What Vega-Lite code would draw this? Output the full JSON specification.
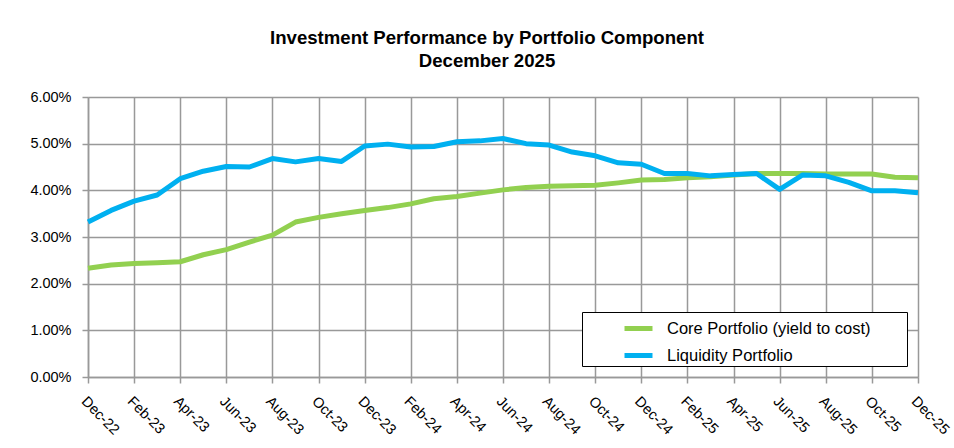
{
  "$schema": "https://vega.github.io/schema/vega-lite/v6.json",
  "autosize": {"type": "none"},
  "width": 830,
  "height": 280,
  "padding": {"left": 88, "top": 97, "right": 36, "bottom": 71},
  "background": "white",
  "title": {
    "text": ["Investment Performance by Portfolio Component", "December 2025"],
    "font": "Liberation Sans",
    "fontSize": 18.6,
    "fontWeight": "bold",
    "color": "#000000",
    "anchor": "middle",
    "dx": -16,
    "offset": 18,
    "lineHeight": 23
  },
  "config": {
    "view": {"stroke": null},
    "font": "Liberation Sans"
  },
  "data": {
    "values": [
      {"month": "Dec-22", "series": "Core Portfolio (yield to cost)", "value": 0.0233},
      {"month": "Jan-23", "series": "Core Portfolio (yield to cost)", "value": 0.0240},
      {"month": "Feb-23", "series": "Core Portfolio (yield to cost)", "value": 0.0243},
      {"month": "Mar-23", "series": "Core Portfolio (yield to cost)", "value": 0.0245},
      {"month": "Apr-23", "series": "Core Portfolio (yield to cost)", "value": 0.0247},
      {"month": "May-23", "series": "Core Portfolio (yield to cost)", "value": 0.0262},
      {"month": "Jun-23", "series": "Core Portfolio (yield to cost)", "value": 0.0273},
      {"month": "Jul-23", "series": "Core Portfolio (yield to cost)", "value": 0.0289},
      {"month": "Aug-23", "series": "Core Portfolio (yield to cost)", "value": 0.0304},
      {"month": "Sep-23", "series": "Core Portfolio (yield to cost)", "value": 0.0332},
      {"month": "Oct-23", "series": "Core Portfolio (yield to cost)", "value": 0.0342},
      {"month": "Nov-23", "series": "Core Portfolio (yield to cost)", "value": 0.0350},
      {"month": "Dec-23", "series": "Core Portfolio (yield to cost)", "value": 0.0357},
      {"month": "Jan-24", "series": "Core Portfolio (yield to cost)", "value": 0.0363},
      {"month": "Feb-24", "series": "Core Portfolio (yield to cost)", "value": 0.0371},
      {"month": "Mar-24", "series": "Core Portfolio (yield to cost)", "value": 0.0382},
      {"month": "Apr-24", "series": "Core Portfolio (yield to cost)", "value": 0.0387},
      {"month": "May-24", "series": "Core Portfolio (yield to cost)", "value": 0.0394},
      {"month": "Jun-24", "series": "Core Portfolio (yield to cost)", "value": 0.0401},
      {"month": "Jul-24", "series": "Core Portfolio (yield to cost)", "value": 0.0406},
      {"month": "Aug-24", "series": "Core Portfolio (yield to cost)", "value": 0.0409},
      {"month": "Sep-24", "series": "Core Portfolio (yield to cost)", "value": 0.0410},
      {"month": "Oct-24", "series": "Core Portfolio (yield to cost)", "value": 0.0411},
      {"month": "Nov-24", "series": "Core Portfolio (yield to cost)", "value": 0.0416},
      {"month": "Dec-24", "series": "Core Portfolio (yield to cost)", "value": 0.0422},
      {"month": "Jan-25", "series": "Core Portfolio (yield to cost)", "value": 0.0423},
      {"month": "Feb-25", "series": "Core Portfolio (yield to cost)", "value": 0.0427},
      {"month": "Mar-25", "series": "Core Portfolio (yield to cost)", "value": 0.0429},
      {"month": "Apr-25", "series": "Core Portfolio (yield to cost)", "value": 0.0433},
      {"month": "May-25", "series": "Core Portfolio (yield to cost)", "value": 0.0436},
      {"month": "Jun-25", "series": "Core Portfolio (yield to cost)", "value": 0.0436},
      {"month": "Jul-25", "series": "Core Portfolio (yield to cost)", "value": 0.0436},
      {"month": "Aug-25", "series": "Core Portfolio (yield to cost)", "value": 0.0435},
      {"month": "Sep-25", "series": "Core Portfolio (yield to cost)", "value": 0.0435},
      {"month": "Oct-25", "series": "Core Portfolio (yield to cost)", "value": 0.0435},
      {"month": "Nov-25", "series": "Core Portfolio (yield to cost)", "value": 0.0428},
      {"month": "Dec-25", "series": "Core Portfolio (yield to cost)", "value": 0.0427},
      {"month": "Dec-22", "series": "Liquidity Portfolio", "value": 0.0332},
      {"month": "Jan-23", "series": "Liquidity Portfolio", "value": 0.0357},
      {"month": "Feb-23", "series": "Liquidity Portfolio", "value": 0.0377},
      {"month": "Mar-23", "series": "Liquidity Portfolio", "value": 0.0390},
      {"month": "Apr-23", "series": "Liquidity Portfolio", "value": 0.0425},
      {"month": "May-23", "series": "Liquidity Portfolio", "value": 0.0441},
      {"month": "Jun-23", "series": "Liquidity Portfolio", "value": 0.0451},
      {"month": "Jul-23", "series": "Liquidity Portfolio", "value": 0.0450},
      {"month": "Aug-23", "series": "Liquidity Portfolio", "value": 0.0468},
      {"month": "Sep-23", "series": "Liquidity Portfolio", "value": 0.0461},
      {"month": "Oct-23", "series": "Liquidity Portfolio", "value": 0.0468},
      {"month": "Nov-23", "series": "Liquidity Portfolio", "value": 0.0462},
      {"month": "Dec-23", "series": "Liquidity Portfolio", "value": 0.0495},
      {"month": "Jan-24", "series": "Liquidity Portfolio", "value": 0.0499},
      {"month": "Feb-24", "series": "Liquidity Portfolio", "value": 0.0493},
      {"month": "Mar-24", "series": "Liquidity Portfolio", "value": 0.0494},
      {"month": "Apr-24", "series": "Liquidity Portfolio", "value": 0.0504},
      {"month": "May-24", "series": "Liquidity Portfolio", "value": 0.0506},
      {"month": "Jun-24", "series": "Liquidity Portfolio", "value": 0.0511},
      {"month": "Jul-24", "series": "Liquidity Portfolio", "value": 0.0500},
      {"month": "Aug-24", "series": "Liquidity Portfolio", "value": 0.0497},
      {"month": "Sep-24", "series": "Liquidity Portfolio", "value": 0.0482},
      {"month": "Oct-24", "series": "Liquidity Portfolio", "value": 0.0474},
      {"month": "Nov-24", "series": "Liquidity Portfolio", "value": 0.0459},
      {"month": "Dec-24", "series": "Liquidity Portfolio", "value": 0.0456},
      {"month": "Jan-25", "series": "Liquidity Portfolio", "value": 0.0436},
      {"month": "Feb-25", "series": "Liquidity Portfolio", "value": 0.0436},
      {"month": "Mar-25", "series": "Liquidity Portfolio", "value": 0.0431},
      {"month": "Apr-25", "series": "Liquidity Portfolio", "value": 0.0434},
      {"month": "May-25", "series": "Liquidity Portfolio", "value": 0.0436},
      {"month": "Jun-25", "series": "Liquidity Portfolio", "value": 0.0402},
      {"month": "Jul-25", "series": "Liquidity Portfolio", "value": 0.0433},
      {"month": "Aug-25", "series": "Liquidity Portfolio", "value": 0.0431},
      {"month": "Sep-25", "series": "Liquidity Portfolio", "value": 0.0417},
      {"month": "Oct-25", "series": "Liquidity Portfolio", "value": 0.0399},
      {"month": "Nov-25", "series": "Liquidity Portfolio", "value": 0.0399},
      {"month": "Dec-25", "series": "Liquidity Portfolio", "value": 0.0395}
    ]
  },
  "mark": {"type": "line", "strokeWidth": 5, "strokeJoin": "round", "strokeCap": "butt"},
  "encoding": {
    "x": {
      "field": "month",
      "type": "ordinal",
      "sort": null,
      "scale": {"type": "point", "padding": 0},
      "axis": {
        "title": null,
        "values": ["Dec-22","Feb-23","Apr-23","Jun-23","Aug-23","Oct-23","Dec-23","Feb-24","Apr-24","Jun-24","Aug-24","Oct-24","Dec-24","Feb-25","Apr-25","Jun-25","Aug-25","Oct-25","Dec-25"],
        "labelAngle": 45,
        "labelAlign": "left",
        "labelBaseline": "top",
        "labelFontSize": 14.5,
        "labelColor": "#000000",
        "labelPadding": 11,
        "grid": true,
        "gridColor": "#999999",
        "gridWidth": 1.5,
        "domainColor": "#999999",
        "domainWidth": 1.5,
        "tickColor": "#999999",
        "tickWidth": 1.5,
        "tickSize": 6
      }
    },
    "y": {
      "field": "value",
      "type": "quantitative",
      "scale": {"domain": [0, 0.06], "nice": false},
      "axis": {
        "title": null,
        "format": ".2%",
        "values": [0, 0.01, 0.02, 0.03, 0.04, 0.05, 0.06],
        "labelFontSize": 14.5,
        "labelColor": "#000000",
        "labelPadding": 11,
        "grid": true,
        "gridColor": "#999999",
        "gridWidth": 1.5,
        "domainColor": "#999999",
        "domainWidth": 1.5,
        "tickColor": "#999999",
        "tickWidth": 1.5,
        "tickSize": 6
      }
    },
    "color": {
      "field": "series",
      "type": "nominal",
      "scale": {
        "domain": ["Core Portfolio (yield to cost)", "Liquidity Portfolio"],
        "range": ["#92D050", "#00B0F0"]
      },
      "legend": {
        "title": null,
        "orient": "bottom-right",
        "offset": 11,
        "fillColor": "white",
        "strokeColor": "#000000",
        "padding": 0,
        "symbolType": "stroke",
        "symbolStrokeWidth": 5,
        "symbolSize": 784,
        "symbolOffset": 40,
        "labelFontSize": 16.5,
        "labelColor": "#000000",
        "labelOffset": 12,
        "labelExpr": "datum.label + '\u2800\u2800\u2800'",
        "rowPadding": 0,
        "labelLimit": 500
      }
    }
  }
}
